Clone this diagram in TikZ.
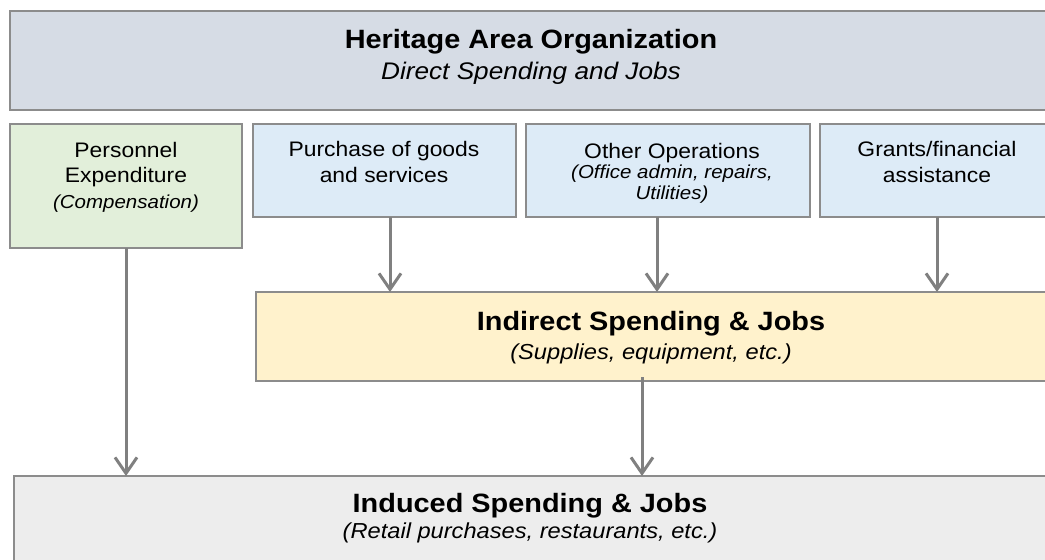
\documentclass[tikz,border=0pt]{standalone}
\usepackage{fontspec}
\setmainfont{Liberation Sans}[FakeStretch=1.09]
\usepackage{xcolor}
\usetikzlibrary{arrows.meta,positioning}

\definecolor{linegray}{HTML}{808080}
\definecolor{boxgray}{HTML}{8C8C8C}
\definecolor{headfill}{HTML}{D6DCE5}
\definecolor{persfill}{HTML}{E2EFDA}
\definecolor{opfill}{HTML}{DDEBF7}
\definecolor{indfill}{HTML}{FFF2CC}
\definecolor{inducedfill}{HTML}{EDEDED}

\newcommand{\headfont}{\bfseries\fontsize{26.5}{30}\selectfont}
\newcommand{\headsub}{\itshape\fontsize{24}{28}\selectfont}
\newcommand{\flowsub}{\itshape\fontsize{21.7}{26}\selectfont}
\newcommand{\boxsub}{\itshape\fontsize{18.8}{22}\selectfont}

\begin{document}
\begin{tikzpicture}[x=1pt,y=-1pt,>={Straight Barb[length=16pt,width=22pt]},semithick]

		\tikzstyle{box}=[draw=boxgray,line width=1.8pt,rectangle,anchor=north west,inner sep=0pt,outer sep=0pt]
		\tikzstyle{txt}=[align=center,inner sep=0pt,anchor=base,text=black,font=\fontsize{21}{25.5}\selectfont]
		\tikzstyle{flow}=[->,draw=linegray,line width=3pt]

		\useasboundingbox (0,0) rectangle (1045,560);
		\clip (0,0) rectangle (1045,560);

		% boxes
		\node[box,fill=headfill,minimum width=1037pt,minimum height=99pt]   (head) at (10,11)  {};
		\node[box,fill=persfill,minimum width=232pt,minimum height=124pt]   (pers) at (10,124) {};
		\node[box,fill=opfill,minimum width=263pt,minimum height=93pt]      (pur)  at (253,124) {};
		\node[box,fill=opfill,minimum width=284pt,minimum height=93pt]      (oth)  at (526,124) {};
		\node[box,fill=opfill,minimum width=234pt,minimum height=93pt]      (gra)  at (820,124) {};
		\node[box,fill=indfill,minimum width=820pt,minimum height=89pt]     (ind)  at (256,292) {};
		\node[box,fill=inducedfill,minimum width=1060pt,minimum height=120pt] (indc) at (14,476) {};

		% texts (base = last line)
		\node[txt,font=\fontsize{24}{31}\selectfont] (headT) at (531,79)
			{{\headfont Heritage Area Organization}\\{\headsub Direct Spending and Jobs}};
		\node[txt] (persT) at (126,208) {Personnel\\Expenditure\\{\boxsub (Compensation)}};
		\node[txt] (purT)  at (384,182) {Purchase of goods\\and services};
		\node[txt,font=\fontsize{21}{20.5}\selectfont] (othT) at (672,199)
			{Other Operations\\{\boxsub (Office admin, repairs,}\\{\boxsub Utilities)}};
		\node[txt] (graT)  at (937,182) {Grants/financial\\assistance};
		\node[txt,font=\fontsize{21.7}{29}\selectfont] (indT) at (651,359)
			{{\headfont Indirect Spending \& Jobs}\\{\flowsub (Supplies, equipment, etc.)}};
		\node[txt,font=\fontsize{21.7}{26}\selectfont] (indcT) at (530,538)
			{{\headfont Induced Spending \& Jobs}\\{\flowsub (Retail purchases, restaurants, etc.)}};

		% arrows
		\draw[flow] (pers.south) -- (pers.south |- indc.north);
		\draw[flow] ([xshift=5.5pt]pur.south) -- ([xshift=5.5pt]pur.south |- ind.north);
		\draw[flow] ([xshift=-11pt]oth.south) -- ([xshift=-11pt]oth.south |- ind.north);
		\draw[flow] (gra.south) -- (gra.south |- ind.north);
		\draw[flow] ([xshift=-24pt,yshift=4pt]ind.south) -- ([xshift=-24pt]ind.south |- indc.north);

	\end{tikzpicture}
\end{document}
